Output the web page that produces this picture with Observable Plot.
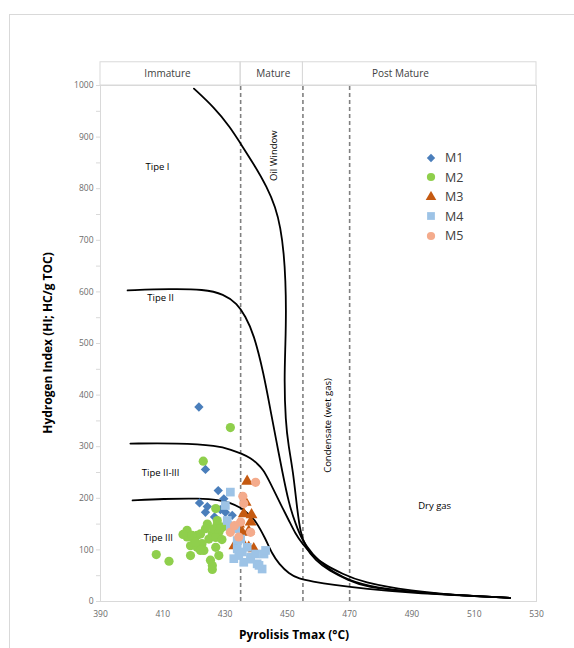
<!DOCTYPE html>
<html><head><meta charset="utf-8">
<script src="https://cdn.jsdelivr.net/npm/d3@7"></script>
<script src="https://cdn.jsdelivr.net/npm/@observablehq/plot@0.6"></script>
<style>
body{margin:0;background:#fff;font-family:"Open Sans",sans-serif;}
#wrap{position:relative;width:574px;height:648px;overflow:hidden;background:#fff;}
#frame{position:absolute;left:9px;top:14px;width:640px;height:720px;border:1px solid #d9d9d9;box-sizing:border-box;}
#chart{position:absolute;left:0;top:0;}
.ytitle{position:absolute;left:47px;top:343px;transform:translate(-50%,-50%) rotate(-90deg);white-space:nowrap;font-weight:700;font-size:12px;color:#000;}
.xtitle{position:absolute;left:294px;top:634px;transform:translate(-50%,-50%);white-space:nowrap;font-weight:700;font-size:12px;color:#000;}
#legend{position:absolute;left:425px;top:148px;font-size:12.5px;color:#404040;}
#legend .row{display:flex;align-items:center;height:19.5px;}
#legend svg{margin-right:8px;}
</style></head>
<body>
<div id="wrap">
  <div id="frame"></div>
  <div id="chart"></div>
  <div class="ytitle">Hydrogen Index (HI; HC/g TOC)</div>
  <div class="xtitle">Pyrolisis Tmax (°C)</div>
  <div id="legend"></div>
</div>
<script>
// Axis ticks
const xTicks = [390, 410, 430, 450, 470, 490, 510, 530];
const yTicks = [0, 100, 200, 300, 400, 500, 600, 700, 800, 900, 1000];
const yMinorTicks = [0, 50, 100, 150, 200, 250, 300, 350, 400, 450, 500, 550, 600, 650, 700, 750, 800, 850, 900, 950, 1000];

// Maturity stages (header)
const stageNames = ["Immature", "Mature", "Post Mature"];
const stageStart = [390, 435, 455];
const stageEnd = [435, 455, 530];
const stageLabelX = [411.5, 445.5, 486.3];
const boundaries = [435, 455, 470];

// Kerogen type curves [Tmax, HI]
const curveTypeI = [[420,994],[420,994],[426.4,958],[431.7,919],[435,887],[439.2,848],[443.5,803],[446.2,764],[447.8,725],[448.9,674],[449.4,622],[449.6,564],[449.4,500],[449.0,430],[449.4,350],[450.4,300],[451.8,254],[453.2,176],[454.2,134],[455.8,105],[459,79.5],[463.3,60],[469.7,41],[475.1,28],[490,18],[505,12],[521.5,7],[521.5,7]];
const curveTypeII = [[398.7,603],[398.7,603],[412.5,606],[423.2,605],[429.6,596],[433.9,577],[436.5,553],[439.2,519],[442.4,442],[444.6,370],[446.5,310],[448.3,254],[450.5,189],[452.6,151],[454.8,118],[458,92],[462.3,66.5],[467.6,47],[475,30],[490,18],[505,12],[521.5,7],[521.5,7]];
const curveTypeIIIII = [[399.6,306],[399.6,306],[415,307],[427.6,302],[432,294],[435.5,286],[438.2,278],[440.4,267],[442.2,256],[444,236],[446.2,209],[448.3,183],[450.5,157],[452.6,131],[454.8,112],[458,89],[462.3,70],[467.6,54],[474,37],[490,20],[505,12],[521.5,7],[521.5,7]];
const curveTypeIII = [[400.3,196],[400.3,196],[410,199],[422,200],[428,197],[431.7,191],[435,182],[437.5,170],[439.8,157],[443,121.5],[445.1,92.4],[447.3,73],[450.5,53.7],[453.7,44],[458,38.8],[464.4,32.4],[475.1,24.6],[490,17],[505,12],[521.5,7],[521.5,7]];

// Region labels
const regionText = ["Tipe I", "Tipe II", "Tipe II-III", "Tipe III", "Dry gas"];
const regionX = [408.3, 409.3, 409.3, 408.6, 497.3];
const regionY = [842, 589, 250, 124, 186];
const rotText = ["Oil Window", "Condensate (wet gas)"];
const rotX = [445.6, 463];
const rotY = [864, 341];

// Samples [Tmax, HI]
const m1 = [[421.6,377],[423.7,256],[427.8,215],[421.8,191],[424.3,184],[423.7,173],[426.6,164],[429.6,199],[430.1,173],[432.3,167],[430.7,154],[432.8,144],[428.5,178]];
const m2 = [[431.7,337],[423,272],[427,180],[417.8,138],[421,128],[424.3,150],[427.5,150],[429.1,144],[418.9,108],[422.6,112],[425.9,131],[418.9,89],[427,105],[428,89],[425.3,80],[423.2,99],[420,121],[424.8,121],[422.1,131],[423.7,141],[426.4,141],[428,134],[421,105],[417.8,125],[425.9,62],[407.9,91],[412,78],[427.5,157],[419.4,128],[428.5,141],[427,124],[420.5,115],[422.1,99],[425.9,70],[416.5,130],[429,120]];
const m3 = [[437.1,233],[436.6,192],[436,170],[438.2,154],[435.5,134],[437.6,136],[437.6,105],[439.2,102],[433,108],[435,120],[438.5,168],[434.5,150]];
const m4 = [[431.7,212],[430.1,186],[430.7,157],[431.7,144],[435,121],[433.9,102],[435.5,96],[432.8,83],[436,76],[438.2,86],[440.3,73],[441.9,63],[442.5,92],[439.8,92],[437.1,105],[433.9,118],[433.4,141],[443,99],[440.9,70],[434.4,89],[438.2,82]];
const m5 = [[439.8,231],[435.7,204],[435,154],[431.7,134],[438.2,134],[434.4,125],[433,147],[436,190]];

const seriesNames = ["M1","M2","M3","M4","M5"];
const seriesData = [m1, m2, m3, m4, m5];
const seriesSymbols = ["diamond2","circle","triangle","square","circle"];
const seriesColors = ["#4a7ebb","#8fcf4c","#c55a11","#9dc3e6","#f4ab8c"];
const seriesR = [4.2, 4.6, 4.4, 4.9, 4.6];

const stages = stageNames.map((name, i) => ({name, x1: stageStart[i], x2: stageEnd[i], lx: stageLabelX[i]}));
const curves = [["I", curveTypeI], ["II", curveTypeII], ["II-III", curveTypeIIIII], ["III", curveTypeIII]]
  .flatMap(([type, pts]) => pts.map(([x, y]) => ({type, x, y})));
const regions = regionText.map((t, i) => ({t, x: regionX[i], y: regionY[i]}));
const rots = rotText.map((t, i) => ({t, x: rotX[i], y: rotY[i]}));

const dotMarks = seriesData.map((data, i) => Plot.dot(data, {
  x: d => d[0], y: d => d[1], symbol: seriesSymbols[i], fill: seriesColors[i], r: seriesR[i], stroke: "none"
}));

const fmt = d3.format("d");
const chart = Plot.plot({
  width: 574, height: 648,
  marginLeft: 100, marginRight: 38, marginTop: 85, marginBottom: 47,
  x: {domain: [390, 530], axis: null},
  y: {domain: [0, 1000], axis: null},
  style: {fontFamily: "Open Sans", background: "transparent", overflow: "visible"},
  marks: [
    Plot.frame({stroke: "#d9d9d9"}),
    Plot.rect(stages, {x1: "x1", x2: "x2", y1: 1000, y2: 1045, stroke: "#d9d9d9", fill: "none"}),
    Plot.text(stages, {x: "lx", y: 1022.5, text: "name", fontSize: 10, fill: "#404040"}),
    Plot.axisY({ticks: yMinorTicks, tickSize: 4, tickFormat: () => "", color: "#d9d9d9", label: null}),
    Plot.axisY({ticks: yTicks, tickSize: 0, tickPadding: 7, fontSize: 8.5, color: "#6b6b6b", tickFormat: fmt, label: null}),
    Plot.axisX({ticks: xTicks, tickSize: 0, tickPadding: 9, fontSize: 8.5, color: "#6b6b6b", tickFormat: fmt, label: null}),
    Plot.ruleX(boundaries, {y1: 0, y2: 1000, stroke: "#808080", strokeWidth: 1.6, strokeDasharray: "4,3"}),
    Plot.line(curves, {x: "x", y: "y", z: "type", curve: "basis", stroke: "#000", strokeWidth: 1.8}),
    Plot.text(regions, {x: "x", y: "y", text: "t", fontSize: 9.5, fill: "#000"}),
    Plot.text(rots, {x: "x", y: "y", text: "t", rotate: -90, fontSize: 9.5, fill: "#000"}),
    ...dotMarks
  ]
});
document.getElementById("chart").appendChild(chart);

// Legend
const legend = d3.select("#legend");
const symMap = {diamond2: d3.symbolDiamond2, circle: d3.symbolCircle, triangle: d3.symbolTriangle, square: d3.symbolSquare};
seriesNames.forEach((name, i) => {
  const row = legend.append("div").attr("class", "row");
  const svg = row.append("svg").attr("width", 12).attr("height", 12);
  svg.append("path")
    .attr("transform", "translate(6,6)")
    .attr("d", d3.symbol(symMap[seriesSymbols[i]], seriesR[i] * seriesR[i] * Math.PI * 0.8)())
    .attr("fill", seriesColors[i]);
  row.append("span").text(name);
});
</script>
</body></html>
